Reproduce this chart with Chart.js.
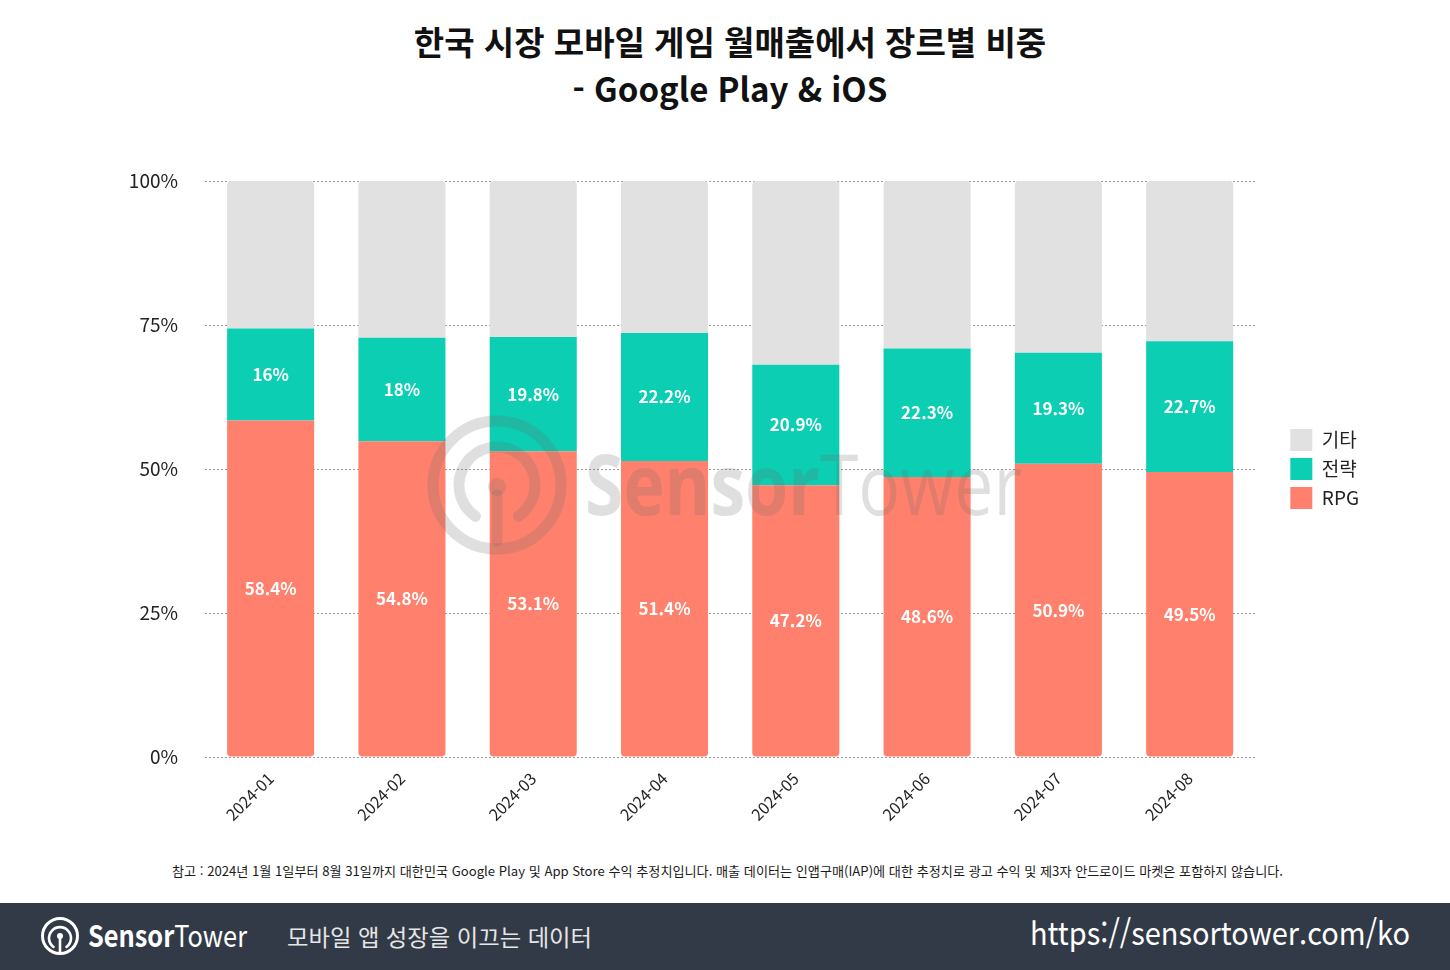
<!DOCTYPE html>
<html lang="ko">
<head>
  <meta charset="UTF-8">
  <title>한국 시장 모바일 게임 월매출에서 장르별 비중</title>
  <script src="https://cdn.jsdelivr.net/npm/chart.js"></script>
  <style>
    html, body {
      margin: 0;
      padding: 0;
      background: #fff;
    }
    body {
      width: 1450px;
      height: 970px;
      position: relative;
      overflow: hidden;
      font-family: 'Noto Sans CJK KR', 'Noto Sans', sans-serif;
    }
    .title {
      position: absolute;
      top: 18px;
      left: 0;
      width: 1460px;
      text-align: center;
      font-weight: 700;
      font-size: 33px;
      line-height: 47px;
      color: #111;
    }
    .chart-box {
      position: absolute;
      left: 0;
      top: 130px;
      width: 1450px;
      height: 720px;
    }
    .bottom {
      position: absolute;
      left: 0;
      top: 850px;
    }
  </style>
</head>
<body>
  <div class="title">한국 시장 모바일 게임 월매출에서 장르별 비중<br>- Google Play &amp; iOS</div>

  <div class="chart-box">
    <canvas id="genreChart"></canvas>
  </div>

  <svg class="bottom" width="1450" height="120" viewBox="0 850 1450 120">
    <text x="172" y="876" font-size="13" fill="#1a1a1a" textLength="1111" lengthAdjust="spacingAndGlyphs">참고 : 2024년 1월 1일부터 8월 31일까지 대한민국 Google Play 및 App Store 수익 추정치입니다. 매출 데이터는 인앱구매(IAP)에 대한 추정치로 광고 수익 및 제3자 안드로이드 마켓은 포함하지 않습니다.</text>
    <rect x="0" y="903" width="1450" height="67" fill="#323a47"/>
    <g stroke="#fff" fill="none" stroke-linecap="round">
      <circle cx="60" cy="936" r="17.5" stroke-width="3"/>
      <path d="M 53.5 947 A 11 11 0 1 1 66.5 947" stroke-width="2.6"/>
      <line x1="60" y1="937" x2="60" y2="952" stroke-width="2.6"/>
    </g>
    <circle cx="60" cy="936" r="3" fill="#fff"/>
    <text x="88" y="947" font-size="30" fill="#fff" textLength="159" lengthAdjust="spacingAndGlyphs"><tspan font-weight="700">Sensor</tspan><tspan>Tower</tspan></text>
    <text x="287" y="946" font-size="23" fill="#e6e6e6" textLength="305" lengthAdjust="spacingAndGlyphs">모바일 앱 성장을 이끄는 데이터</text>
    <text x="1030" y="945" font-size="32" fill="#fff" textLength="380" lengthAdjust="spacingAndGlyphs">https://sensortower.com/ko</text>
  </svg>

<script>
// 데이터
const months = ['2024-01', '2024-02', '2024-03', '2024-04', '2024-05', '2024-06', '2024-07', '2024-08'];
const rpgShare = [58.4, 54.8, 53.1, 51.4, 47.2, 48.6, 50.9, 49.5];
const strategyShare = [16, 18, 19.8, 22.2, 20.9, 22.3, 19.3, 22.7];
const otherShare = [25.6, 27.2, 27.1, 26.4, 31.9, 29.1, 29.8, 27.8];
const yTicks = [0, 25, 50, 75, 100];

const FONT = "'Noto Sans CJK KR', 'Noto Sans', sans-serif";

// 배경 워터마크
const watermark = {
  id: 'watermark',
  afterDatasetsDraw(chart) {
    const { ctx, chartArea: a } = chart;
    const cx = a.left + 292;
    const cy = (a.top + a.bottom) / 2 + 16;
    ctx.save();
    ctx.strokeStyle = 'rgba(110,110,110,0.22)';
    ctx.fillStyle = 'rgba(110,110,110,0.22)';
    ctx.lineCap = 'round';
    ctx.lineWidth = 11;
    ctx.beginPath();
    ctx.arc(cx, cy, 64, 0, Math.PI * 2);
    ctx.stroke();
    ctx.beginPath();
    ctx.arc(cx, cy, 38, Math.PI / 2 + 0.6, Math.PI * 2.5 - 0.6);
    ctx.moveTo(cx, cy + 10);
    ctx.lineTo(cx, cy + 56);
    ctx.stroke();
    ctx.beginPath();
    ctx.arc(cx, cy + 2, 9, 0, Math.PI * 2);
    ctx.fill();

    const size = 84;
    ctx.font = `bold ${size}px 'Open Sans', sans-serif`;
    const w1 = ctx.measureText('Sensor').width;
    ctx.font = `${size}px 'Open Sans', sans-serif`;
    const w2 = ctx.measureText('Tower').width;
    const k = 437 / (w1 + w2);
    ctx.translate(a.left + 380, cy + 30);
    ctx.scale(k, 1);
    ctx.textBaseline = 'alphabetic';
    ctx.font = `bold ${size}px 'Open Sans', sans-serif`;
    ctx.fillText('Sensor', 0, 0);
    ctx.font = `${size}px 'Open Sans', sans-serif`;
    ctx.fillText('Tower', w1, 0);
    ctx.restore();
  }
};

// 막대 안 퍼센트 라벨
const barLabels = {
  id: 'barLabels',
  afterDatasetsDraw(chart) {
    const ctx = chart.ctx;
    ctx.save();
    ctx.font = `bold 17px ${FONT}`;
    ctx.fillStyle = '#fff';
    ctx.textAlign = 'center';
    ctx.textBaseline = 'middle';
    chart.data.datasets.forEach((ds, i) => {
      if (!ds.showLabels) return;
      chart.getDatasetMeta(i).data.forEach((bar, j) => {
        const p = bar.getProps(['x', 'y', 'base'], true);
        ctx.fillText(ds.data[j] + '%', p.x, (p.y + p.base) / 2);
      });
    });
    ctx.restore();
  }
};

new Chart(document.getElementById('genreChart'), {
  type: 'bar',
  data: {
    labels: months,
    datasets: [
      {
        label: 'RPG',
        data: rpgShare,
        backgroundColor: '#ff806c',
        borderSkipped: false,
        borderRadius: { bottomLeft: 4, bottomRight: 4 },
        showLabels: true
      },
      {
        label: '전략',
        data: strategyShare,
        backgroundColor: '#0bceb3',
        borderSkipped: false,
        borderRadius: 0,
        showLabels: true
      },
      {
        label: '기타',
        data: otherShare,
        backgroundColor: '#e1e1e1',
        borderSkipped: false,
        borderRadius: { topLeft: 4, topRight: 4 },
        showLabels: false
      }
    ]
  },
  options: {
    responsive: true,
    maintainAspectRatio: false,
    animation: false,
    categoryPercentage: 1,
    barPercentage: 0.663,
    layout: {
      padding: { top: 51, right: 81, bottom: 0, left: 0 }
    },
    scales: {
      x: {
        stacked: true,
        grid: { display: false, drawTicks: false },
        border: { display: false },
        ticks: {
          minRotation: 45,
          maxRotation: 45,
          padding: 12,
          color: '#222',
          font: { family: FONT, size: 16 }
        },
        afterFit(s) { s.height = 93; }
      },
      y: {
        stacked: true,
        min: 0,
        max: 100,
        afterBuildTicks(s) { s.ticks = yTicks.map(v => ({ value: v })); },
        ticks: {
          callback: v => v + '%',
          padding: 27,
          color: '#222',
          font: { family: FONT, size: 19 }
        },
        grid: { color: '#9a9a9a', lineWidth: 1, drawTicks: false },
        border: { display: false, dash: [2, 2] },
        afterFit(s) { s.width = 205; }
      },
      gap: {
        type: 'linear',
        position: 'right',
        grid: { display: false, drawTicks: false },
        ticks: { display: false },
        border: { display: false },
        afterFit(s) { s.width = 28; }
      }
    },
    plugins: {
      legend: {
        position: 'right',
        fullSize: false,
        reverse: true,
        labels: {
          boxWidth: 22,
          boxHeight: 22,
          padding: 7,
          color: '#222',
          font: { family: FONT, size: 19 }
        }
      },
      tooltip: { enabled: false }
    }
  },
  plugins: [watermark, barLabels]
});
</script>
</body>
</html>
